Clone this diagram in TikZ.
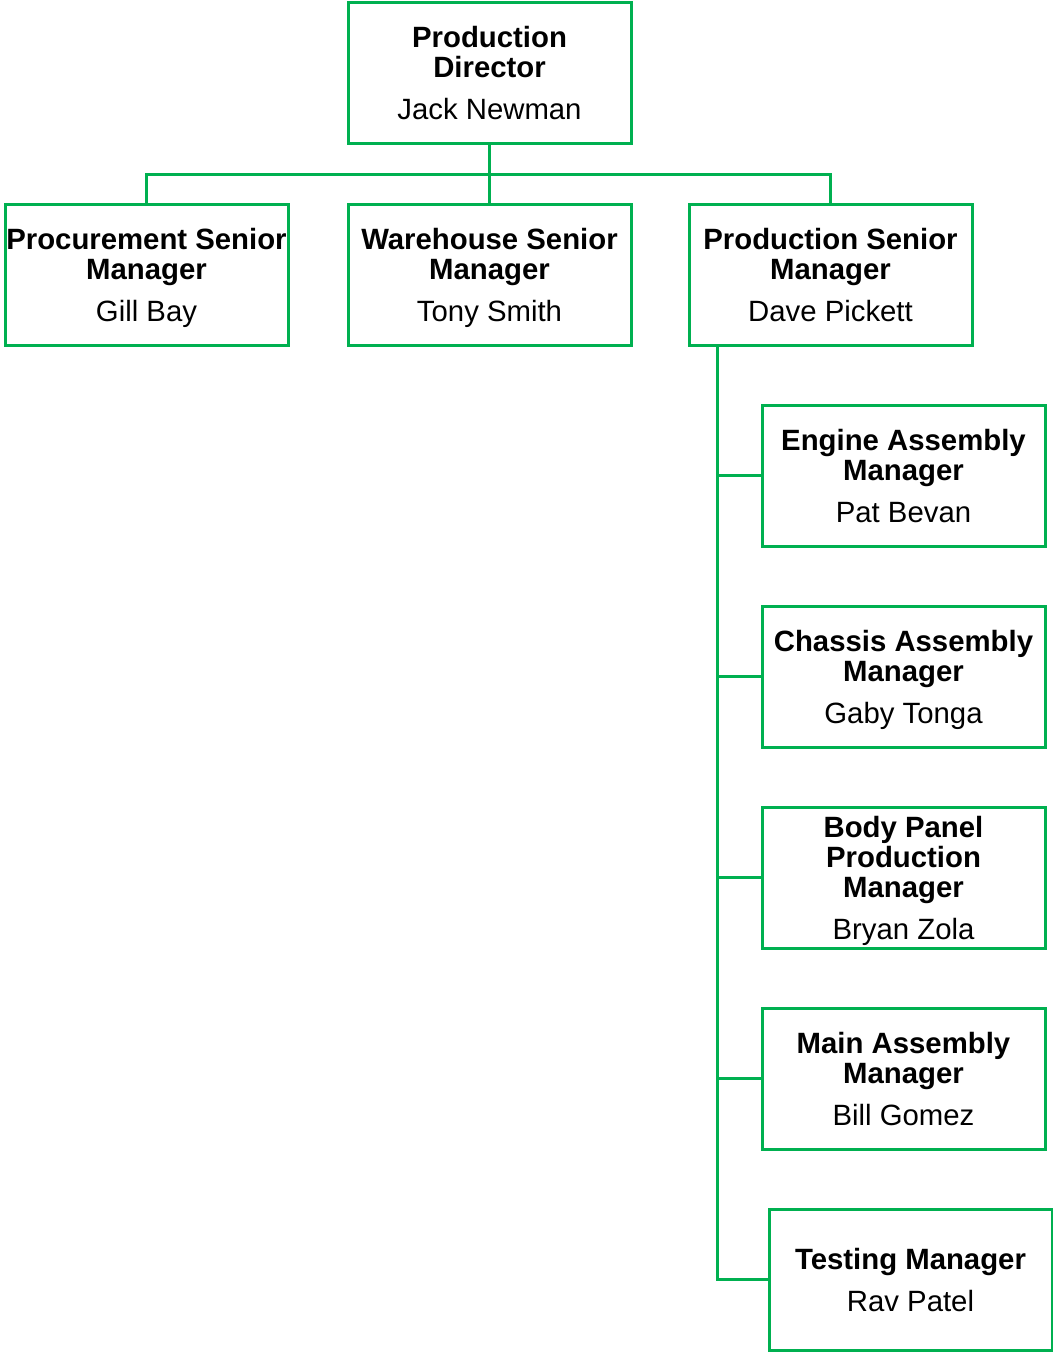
\documentclass[tikz,border=0pt]{standalone}
\usepackage{fontspec}
\setmainfont{Liberation Sans}
\definecolor{orggreen}{RGB}{0,176,80}
\begin{document}
\begin{tikzpicture}[x=0.75pt,y=-0.75pt,
  box/.style={draw=orggreen, line width=2.25pt, minimum width=212.25pt,
    minimum height=105.75pt, inner sep=0pt, align=center, text depth=0pt,
    font=\fontsize{22}{22.5}\selectfont\bfseries},
  link/.style={draw=orggreen, line width=2.25pt}]
\useasboundingbox (0,0) rectangle (1053,1353);
\node[box] (top) at (489.5,73) {Production\\Director\\[9pt]\mdseries Jack Newman};
\node[box] (proc) at (146.5,274.5) {Procurement Senior\\Manager\\[9pt]\mdseries Gill Bay};
\node[box] (ware) at (489.5,274.5) {Warehouse Senior\\Manager\\[9pt]\mdseries Tony Smith};
\node[box] (prod) at (830.5,274.5) {Production Senior\\Manager\\[9pt]\mdseries Dave Pickett};
\node[box] (engine) at (903.5,475.5) {Engine Assembly\\Manager\\[9pt]\mdseries Pat Bevan};
\node[box] (chassis) at (903.5,676.5) {Chassis Assembly\\Manager\\[9pt]\mdseries Gaby Tonga};
\node[box] (body) at (903.5,877.5) {Body Panel\\Production\\Manager\\[9pt]\mdseries Bryan Zola};
\node[box] (main) at (903.5,1078.5) {Main Assembly\\Manager\\[9pt]\mdseries Bill Gomez};
\node[box] (testing) at (910.5,1279.5) {Testing Manager\\[9pt]\mdseries Rav Patel};
\coordinate (bar) at (489.5,174);
\coordinate (spine) at (717,0);
\draw[link] (top.south) -- (ware.north);
\draw[link] (proc.north) |- (bar) -| (prod.north);
\draw[link] (prod.south -| spine) |- (testing.west);
\foreach \n in {engine,chassis,body,main}
  \draw[link] (\n.west) -- (\n.west -| spine);
\end{tikzpicture}
\end{document}
